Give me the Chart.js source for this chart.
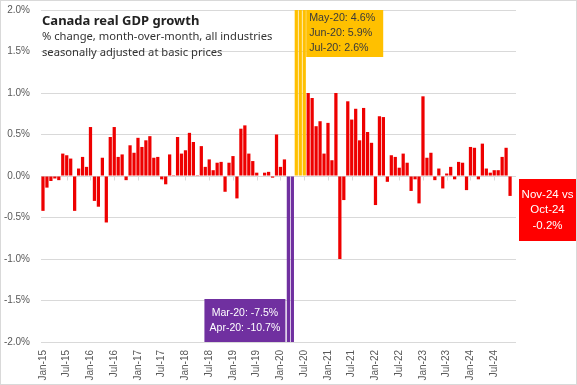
<!DOCTYPE html>
<html>
<head>
<meta charset="utf-8">
<script src="https://cdn.jsdelivr.net/npm/chart.js@4.4.1/dist/chart.umd.min.js"></script>
<style>
  html, body { margin: 0; padding: 0; background: #fff; }
  canvas { display: block; }
</style>
</head>
<body>
<canvas id="gdpChart" width="577" height="385"></canvas>
<script>
// Month labels, Jan-15 .. Dec-24 (Dec-24 not published yet)
const monthNames = ['Jan', 'Feb', 'Mar', 'Apr', 'May', 'Jun', 'Jul', 'Aug', 'Sep', 'Oct', 'Nov', 'Dec'];
const years = ['15', '16', '17', '18', '19', '20', '21', '22', '23', '24'];
const months = [];
years.forEach((y) => monthNames.forEach((m) => months.push(m + '-' + y)));

// Month-over-month % change in real GDP
const growth2015 = [-0.42, -0.14, -0.06, -0.03, -0.05, 0.27, 0.25, 0.21, -0.42, 0.09, 0.23, 0.11];
const growth2016 = [0.59, -0.30, -0.37, 0.22, -0.56, 0.47, 0.59, 0.23, 0.26, -0.05, 0.37, 0.28];
const growth2017 = [0.46, 0.35, 0.43, 0.48, 0.22, 0.23, -0.04, -0.10, 0.26, 0.01, 0.47, 0.27];
const growth2018 = [0.31, 0.52, 0.41, 0.01, 0.36, 0.11, 0.20, 0.07, 0.16, 0.17, -0.19, 0.16];
const growth2019 = [0.24, -0.27, 0.57, 0.61, 0.27, 0.18, 0.04, 0.00, 0.04, 0.05, -0.02, 0.50];
const growth2020 = [0.11, 0.20, -7.5, -10.7, 4.6, 5.9, 2.6, 1.00, 0.94, 0.60, 0.66, 0.27];
const growth2021 = [0.64, 0.19, 1.00, -1.00, -0.29, 0.90, 0.68, 0.81, 0.43, 0.82, 0.53, 0.40];
const growth2022 = [-0.35, 0.72, 0.71, -0.07, 0.25, 0.23, 0.10, 0.27, 0.16, -0.18, -0.04, -0.33];
const growth2023 = [0.96, 0.22, 0.28, -0.05, 0.09, -0.15, 0.03, 0.11, -0.04, 0.17, 0.16, -0.17];
const growth2024 = [0.35, 0.34, -0.04, 0.39, 0.09, 0.04, 0.07, 0.07, 0.23, 0.34, -0.24, null];
const growth = [].concat(growth2015, growth2016, growth2017, growth2018, growth2019,
  growth2020, growth2021, growth2022, growth2023, growth2024);

// Y axis ticks
const yMin = -2.0;
const yMax = 2.0;
const yStep = 0.5;

// Highlighted months and their callouts
const crashMonths = ['Mar-20', 'Apr-20'];
const reboundMonths = ['May-20', 'Jun-20', 'Jul-20'];
const crashLines = ['Mar-20: -7.5%', 'Apr-20: -10.7%'];
const reboundLines = ['May-20: 4.6%', 'Jun-20: 5.9%', 'Jul-20: 2.6%'];
const latestLines = ['Nov-24 vs', 'Oct-24', '-0.2%'];

const RED = '#ee0000';
const GOLD = '#ffc000';
const PURPLE = '#7030a0';
const GRID = '#d9d9d9';
const TEXT = '#595959';
const AXIS_FONT = '"Liberation Sans", Arial, sans-serif';

const barColors = months.map((m) => {
  if (crashMonths.includes(m)) return PURPLE;
  if (reboundMonths.includes(m)) return GOLD;
  return RED;
});

// white background + thin frame round the whole chart
const framePlugin = {
  id: 'frame',
  beforeDraw(chart) {
    const ctx = chart.ctx;
    ctx.save();
    ctx.fillStyle = '#fff';
    ctx.fillRect(0, 0, chart.width, chart.height);
    ctx.strokeStyle = GRID;
    ctx.lineWidth = 1;
    ctx.strokeRect(0.5, 0.5, chart.width - 1, chart.height - 1);
    ctx.restore();
  },
  // small tick marks on the zero line at each labelled month
  beforeDatasetsDraw(chart) {
    const ctx = chart.ctx;
    const x = chart.scales.x;
    const y0 = Math.round(chart.scales.y.getPixelForValue(0)) + 0.5;
    ctx.save();
    ctx.strokeStyle = GRID;
    ctx.lineWidth = 1;
    ctx.beginPath();
    ctx.moveTo(chart.chartArea.left, y0);
    ctx.lineTo(chart.chartArea.right, y0);
    months.forEach((m, i) => {
      if (i % 6 !== 0) return;
      const px = Math.round(x.getPixelForValue(i)) + 0.5;
      ctx.moveTo(px, y0);
      ctx.lineTo(px, y0 + 4);
    });
    ctx.stroke();
    ctx.restore();
  }
};

function drawBox(ctx, left, top, w, h, fill, lines, color, font, lineGap, align) {
  ctx.fillStyle = fill;
  ctx.fillRect(left, top, w, h);
  ctx.fillStyle = color;
  ctx.font = font;
  ctx.textBaseline = 'middle';
  ctx.textAlign = align;
  const tx = align === 'center' ? left + w / 2 : left + 3;
  const startY = top + h / 2 - (lines.length - 1) * lineGap / 2;
  lines.forEach((t, i) => ctx.fillText(t, tx, startY + i * lineGap));
}

const notesPlugin = {
  id: 'notes',
  afterDatasetsDraw(chart) {
    const ctx = chart.ctx;
    const area = chart.chartArea;
    const x = chart.scales.x;
    const y = chart.scales.y;
    const cat = x.getPixelForValue(1) - x.getPixelForValue(0);
    ctx.save();

    // title block
    ctx.textAlign = 'left';
    ctx.textBaseline = 'alphabetic';
    ctx.fillStyle = '#222';
    ctx.font = 'bold 13px "Noto Sans"';
    ctx.fillText('Canada real GDP growth', 42, 25);
    ctx.fillStyle = '#333';
    ctx.font = '11.2px "Noto Sans"';
    ctx.fillText('% change, month-over-month, all industries', 42, 40);
    ctx.fillText('seasonally adjusted at basic prices', 42, 56);

    // rebound callout, next to the Jul-20 bar
    const julX = x.getPixelForValue(months.indexOf('Jul-20')) + cat / 2;
    drawBox(ctx, julX, area.top, 77, 47, GOLD, reboundLines, '#3a3a3a', '10.7px ' + AXIS_FONT, 15, 'left');

    // crash callout, left of the Mar-20 bar
    const marX = x.getPixelForValue(months.indexOf('Mar-20')) - cat / 2;
    drawBox(ctx, marX - 82, area.bottom - 43, 81, 43, PURPLE, crashLines, '#fff', '10.5px ' + AXIS_FONT, 14.5, 'center');

    // latest reading, outside the plot on the right
    const zeroY = y.getPixelForValue(0);
    drawBox(ctx, area.right + 3, zeroY + 3, 57, 62, '#ff0000', latestLines, '#fff', '11.5px ' + AXIS_FONT, 15.5, 'center');

    ctx.restore();
  }
};

new Chart(document.getElementById('gdpChart'), {
  type: 'bar',
  data: {
    labels: months,
    datasets: [{
      label: 'Real GDP growth',
      data: growth,
      backgroundColor: barColors,
      borderWidth: 0,
      barPercentage: 0.82,
      categoryPercentage: 1.0,
      clip: 0
    }]
  },
  options: {
    responsive: false,
    animation: false,
    layout: { padding: { top: 10, right: 61, left: 0, bottom: 0 } },
    plugins: {
      legend: { display: false },
      tooltip: { enabled: false }
    },
    scales: {
      x: {
        grid: { display: false, drawTicks: false },
        border: { display: false },
        ticks: {
          autoSkip: false,
          minRotation: 90,
          maxRotation: 90,
          padding: 8,
          color: TEXT,
          font: { family: AXIS_FONT, size: 10 },
          callback: (v, i) => (i % 6 === 0 ? months[i] : '')
        },
        afterFit: (scale) => {
          scale.height = 43;
          scale.paddingLeft = 0;
          scale.paddingRight = 0;
        }
      },
      y: {
        min: yMin,
        max: yMax,
        border: { display: false },
        grid: { color: GRID, drawTicks: false },
        ticks: {
          stepSize: yStep,
          padding: 11,
          color: TEXT,
          font: { family: AXIS_FONT, size: 10 },
          callback: (v) => v.toFixed(1) + '%'
        },
        afterFit: (scale) => {
          scale.width = 41;
          scale.paddingTop = 0;
          scale.paddingBottom = 0;
        }
      }
    }
  },
  plugins: [framePlugin, notesPlugin]
});
</script>
</body>
</html>
